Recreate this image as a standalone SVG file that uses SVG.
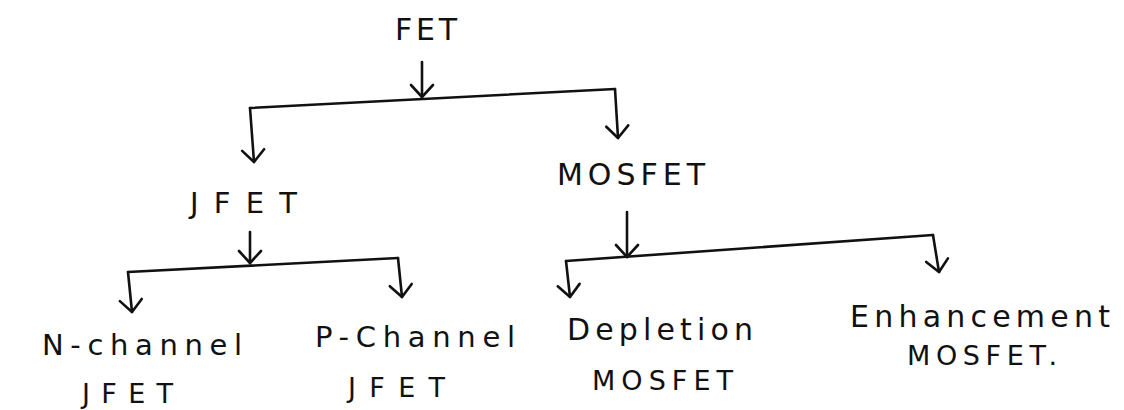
<svg xmlns="http://www.w3.org/2000/svg" width="1124" height="410" viewBox="0 0 1124 410">
  <style>
    .lbl { font-family: "DejaVu Sans", "Liberation Sans", sans-serif; fill: #111; }
    .big { font-size: 30px; }
    .mid { font-size: 29px; }
    .sm { font-size: 27px; }
    .ln { fill: none; stroke: #111; stroke-width: 2.6; stroke-linecap: round; stroke-linejoin: round; }
    .ar { marker-end: url(#vhead); }
  </style>
  <defs>
    <marker id="vhead" markerUnits="userSpaceOnUse" markerWidth="30" markerHeight="30" viewBox="-15 -15 30 30" refX="0" refY="0" orient="auto" overflow="visible">
      <path d="M-12,-11 L0,0 L-12,11" fill="none" stroke="#111" stroke-width="2.6" stroke-linecap="round" stroke-linejoin="round"/>
    </marker>
  </defs>
  <rect width="1124" height="410" fill="#ffffff"/>

  <g id="connectors">
    <!-- FET branch -->
    <path class="ln ar" d="M422,62 L422,97"/>
    <path class="ln" d="M250,108 L615,89"/>
    <path class="ln ar" d="M250,108 L254,162"/>
    <path class="ln ar" d="M615,89 L618,138"/>
    <!-- JFET branch -->
    <path class="ln ar" d="M250,232 L250,263"/>
    <path class="ln" d="M128,272 L398,258"/>
    <path class="ln ar" d="M128,272 L132,312"/>
    <path class="ln ar" d="M398,258 L402,297"/>
    <!-- MOSFET branch -->
    <path class="ln ar" d="M627,212 L627,257"/>
    <path class="ln" d="M566,261 L933,235"/>
    <path class="ln ar" d="M566,261 L570,297"/>
    <path class="ln ar" d="M933,235 L939,272"/>
  </g>

  <g id="node-fet">
    <text class="lbl big" x="395" y="40" textLength="62">FET</text>
  </g>
  <g id="node-jfet">
    <text class="lbl mid" x="190" y="213" textLength="107">JFET</text>
  </g>
  <g id="node-mosfet">
    <text class="lbl big" x="557" y="185" textLength="148">MOSFET</text>
  </g>
  <g id="node-nchannel">
    <text class="lbl mid" x="42" y="355" textLength="200">N-channel</text>
    <text class="lbl sm" x="82" y="403" textLength="91">JFET</text>
  </g>
  <g id="node-pchannel">
    <text class="lbl mid" x="315" y="347" textLength="200">P-Channel</text>
    <text class="lbl sm" x="348" y="397" textLength="97">JFET</text>
  </g>
  <g id="node-depletion">
    <text class="lbl big" x="567" y="340" textLength="186">Depletion</text>
    <text class="lbl sm" x="592" y="390" textLength="141">MOSFET</text>
  </g>
  <g id="node-enhancement">
    <text class="lbl big" x="850" y="327" textLength="260">Enhancement</text>
    <text class="lbl sm" x="907" y="365" textLength="150">MOSFET.</text>
  </g>
</svg>
